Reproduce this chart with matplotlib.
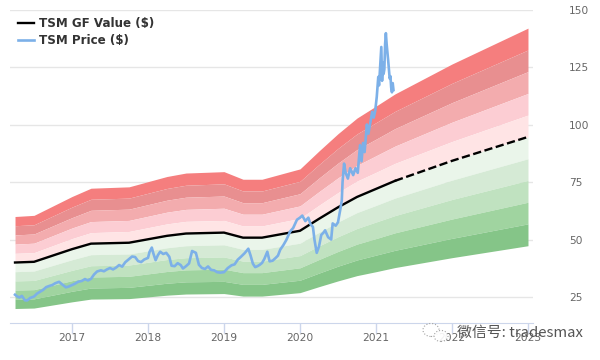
import matplotlib
matplotlib.use('Agg')
import matplotlib.pyplot as plt
from matplotlib.patches import Ellipse

# GF value and its bands
years = [2016.25, 2016.5, 2017, 2017.25, 2017.75, 2018.25, 2018.5, 2019, 2019.25, 2019.5, 2020, 2020.25, 2020.5, 2020.75, 2021, 2021.25, 2022, 2023]
gf_value = [40, 40.3, 45.8, 48.2, 48.6, 51.6, 52.6, 53, 50.8, 50.8, 53.8, 59, 64, 68.5, 72, 75.5, 84.2, 94.6]

upper5 = [60, 60.5, 68.7, 72.3, 72.9, 77.4, 78.9, 79.5, 76.2, 76.2, 80.7, 88.5, 96, 102.8, 108, 113.3, 126.3, 141.9]
upper4 = [56, 56.4, 64.1, 67.5, 68, 72.2, 73.6, 74.2, 71.1, 71.1, 75.3, 82.6, 89.6, 95.9, 100.8, 105.7, 117.9, 132.4]
upper3 = [52, 52.4, 59.5, 62.7, 63.2, 67.1, 68.4, 68.9, 66, 66, 69.9, 76.7, 83.2, 89.1, 93.6, 98.2, 109.5, 123]
upper2 = [48, 48.4, 55, 57.8, 58.3, 61.9, 63.1, 63.6, 61, 61, 64.6, 70.8, 76.8, 82.2, 86.4, 90.6, 101, 113.5]
upper1 = [44, 44.3, 50.4, 53, 53.5, 56.8, 57.9, 58.3, 55.9, 55.9, 59.2, 64.9, 70.4, 75.4, 79.2, 83.1, 92.6, 104.1]
lower1 = [36, 36.3, 41.2, 43.4, 43.7, 46.4, 47.3, 47.7, 45.7, 45.7, 48.4, 53.1, 57.6, 61.7, 64.8, 68, 75.8, 85.1]
lower2 = [32, 32.2, 36.6, 38.6, 38.9, 41.3, 42.1, 42.4, 40.6, 40.6, 43, 47.2, 51.2, 54.8, 57.6, 60.4, 67.4, 75.7]
lower3 = [28, 28.2, 32.1, 33.7, 34, 36.1, 36.8, 37.1, 35.6, 35.6, 37.7, 41.3, 44.8, 48, 50.4, 52.9, 58.9, 66.2]
lower4 = [24, 24.2, 27.5, 28.9, 29.2, 31, 31.6, 31.8, 30.5, 30.5, 32.3, 35.4, 38.4, 41.1, 43.2, 45.3, 50.5, 56.8]
lower5 = [20, 20.2, 22.9, 24.1, 24.3, 25.8, 26.3, 26.5, 25.4, 25.4, 26.9, 29.5, 32, 34.3, 36, 37.8, 42.1, 47.3]

# price line, ten points a row in both lists
price_t = [2016.25, 2016.28, 2016.31, 2016.34, 2016.38, 2016.41, 2016.45, 2016.5, 2016.54, 2016.58,
           2016.62, 2016.66, 2016.7, 2016.74, 2016.78, 2016.83, 2016.87, 2016.92, 2016.96, 2017.0,
           2017.04, 2017.08, 2017.13, 2017.17, 2017.21, 2017.25, 2017.29, 2017.33, 2017.38, 2017.42,
           2017.46, 2017.5, 2017.54, 2017.58, 2017.62, 2017.66, 2017.7, 2017.75, 2017.79, 2017.83,
           2017.87, 2017.91, 2017.95, 2018.0, 2018.02, 2018.05, 2018.07, 2018.1, 2018.13, 2018.16,
           2018.2, 2018.24, 2018.28, 2018.31, 2018.35, 2018.39, 2018.43, 2018.46, 2018.5, 2018.54,
           2018.58, 2018.63, 2018.67, 2018.71, 2018.75, 2018.79, 2018.83, 2018.87, 2018.91, 2018.95,
           2019.0, 2019.05, 2019.1, 2019.14, 2019.18, 2019.22, 2019.27, 2019.32, 2019.35, 2019.38,
           2019.41, 2019.44, 2019.47, 2019.5, 2019.53, 2019.57, 2019.6, 2019.64, 2019.68, 2019.71,
           2019.74, 2019.78, 2019.82, 2019.87, 2019.91, 2019.96, 2020.0, 2020.03, 2020.07, 2020.11,
           2020.14, 2020.17, 2020.19, 2020.22, 2020.25, 2020.28, 2020.31, 2020.33, 2020.37, 2020.41,
           2020.43, 2020.47, 2020.5, 2020.53, 2020.55, 2020.56, 2020.58, 2020.6, 2020.63, 2020.66,
           2020.7, 2020.73, 2020.76, 2020.79, 2020.81, 2020.83, 2020.85, 2020.88, 2020.9, 2020.95,
           2020.97, 2020.99, 2021.01, 2021.03, 2021.04, 2021.06, 2021.07, 2021.08, 2021.09, 2021.1,
           2021.11, 2021.12, 2021.13, 2021.14, 2021.16, 2021.18, 2021.19, 2021.2, 2021.21, 2021.22, 2021.23]
price = [26, 25.2, 24.8, 25.5, 23.6, 23.5, 24.6, 25.2, 26.5, 27.3,
         28.1, 29.3, 29.8, 30.2, 31, 31.6, 30.5, 29.2, 29.6, 30.2,
         30.8, 31.6, 32, 32.8, 32.2, 32.9, 34.8, 36.1, 36.6, 36.2,
         37, 37.6, 37, 37.8, 38.9, 38.2, 40.1, 41.5, 42.6, 42.4,
         40.6, 40.2, 41.3, 42, 44.6, 46.5, 44, 41, 43.2, 44.7,
         43.7, 44.2, 42.5, 38.6, 38.4, 39.7, 38.9, 37.4, 38.4, 39.6,
         45, 44.2, 39, 37.6, 37.2, 38.3, 36.8, 36.6, 35.8, 35.6,
         35.8, 37.6, 38.8, 39.2, 41.2, 42.4, 44, 46, 43, 39.5,
         38, 38.4, 39, 39.8, 41.5, 44.7, 40.5, 40.8, 42, 43,
         45.6, 47.5, 49.8, 53.5, 55, 58.6, 59.5, 60.4, 58, 59.5,
         56.5, 55.5, 50, 44.2, 47, 52, 53, 54, 51, 50,
         57, 56, 57.5, 63, 67, 75, 83, 79, 76.5, 81,
         78, 81, 79, 91, 84, 92, 88, 100, 96, 105.5,
         103, 106, 112, 120.7, 117, 128, 133.7, 119, 127, 122,
         124, 135, 139.7, 135, 128, 120, 121, 116, 114, 118, 115]

band_colors = ['#f57e7e', '#e88f90', '#f3acae', '#fccdd3', '#ffe4e5', '#eaf5ea', '#d5ead5', '#c0e2c0', '#a0d4a0', '#85c588']
x_ticks = [2017, 2018, 2019, 2020, 2021, 2022, 2023]
y_ticks = [25, 50, 75, 100, 125, 150]

fig = plt.figure(figsize=(6, 3.6), dpi=100)
ax = fig.add_axes([10 / 600, 1 - 323 / 360, 523 / 600, 313.5 / 360])

edges = [upper5, upper4, upper3, upper2, upper1, gf_value, lower1, lower2, lower3, lower4, lower5]
for i in range(10):
    ax.fill_between(years, edges[i], edges[i + 1], color=band_colors[i], lw=0, zorder=2)

# solid up to the last price date, dashed after
ax.plot(years[:16], gf_value[:16], color='black', lw=1.7, zorder=3, label='TSM GF Value ($)')
ax.plot(years[15:], gf_value[15:], color='black', lw=1.7, ls=(0, (3.5, 1.5)), zorder=3)
ax.plot(price_t, price, color='#7cb0e8', lw=1.9, zorder=4, label='TSM Price ($)')

ax.set_xlim(2016.184, 2023.066)
ax.set_ylim(13.7, 150)
ax.set_xticks(x_ticks)
ax.set_yticks(y_ticks)
ax.yaxis.tick_right()
ax.grid(axis='y', color='#e6e6e6', lw=1, zorder=1)
ax.set_axisbelow(True)
for s in ['top', 'left', 'right']:
    ax.spines[s].set_visible(False)
ax.spines['bottom'].set_color('#ccd6eb')
ax.tick_params(axis='x', length=7, width=1, color='#ccd6eb', labelcolor='#666666', labelsize=7.7, pad=0.5)
ax.tick_params(axis='y', length=0, labelcolor='#666666', labelsize=7.7, pad=26)

leg = ax.legend(loc='upper left', bbox_to_anchor=(0.015, 0.975), frameon=False, handlelength=1.33, handletextpad=0.42,
                labelspacing=0.28, borderpad=0, borderaxespad=0,
                prop={'size': 8.6, 'weight': 'bold'}, labelcolor='#333333')

# watermark at the bottom right, it sits over the last tick labels
for cx, cy, w, h in [(431, 330, 16, 13), (441, 336, 14, 11)]:
    fig.add_artist(Ellipse((cx / 600, 1 - cy / 360), w / 600, h / 360, transform=fig.transFigure,
                           facecolor='white', edgecolor='#999999', lw=0.8, ls=':', alpha=0.9))
fig.text(457 / 600, 1 - 333 / 360, '微信号: tradesmax', color='#555555', fontsize=10.7, va='center',
         family=['Noto Sans CJK SC', 'DejaVu Sans'])

fig.savefig('out.png', dpi=100)
